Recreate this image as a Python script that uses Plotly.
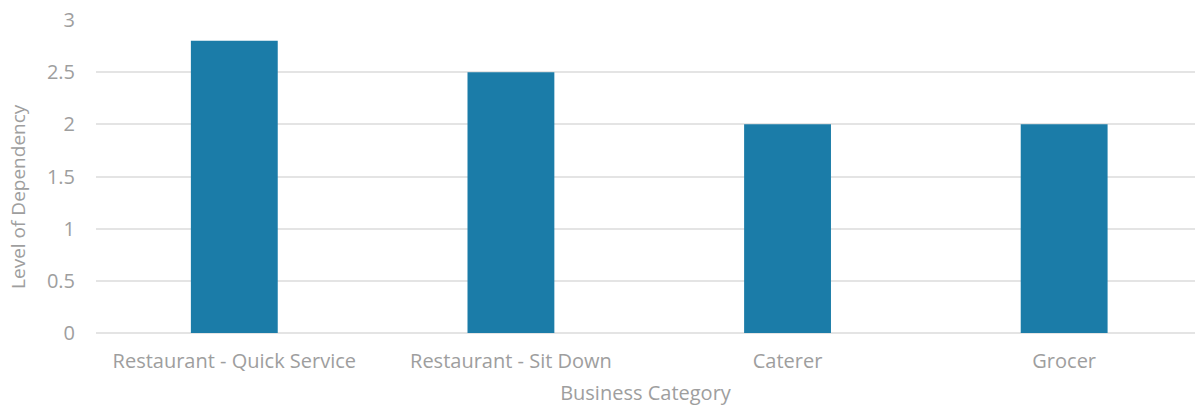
import plotly.graph_objects as go

categories = ["Restaurant - Quick Service", "Restaurant - Sit Down", "Caterer", "Grocer"]
dependency = [2.8, 2.5, 2.0, 2.0]
y_ticks = [0, 0.5, 1, 1.5, 2, 2.5, 3]
y_tick_labels = ["0", "0.5", "1", "1.5", "2", "2.5", "3"]

FONT = "Open Sans"
GRAY = "#9e9e9e"

fig = go.Figure(
    go.Bar(
        x=categories,
        y=dependency,
        marker=dict(color="#1b7ca8", line=dict(width=0)),
    )
)

fig.update_layout(
    width=1195,
    height=411,
    margin=dict(l=96, r=0, t=20, b=78),
    paper_bgcolor="white",
    plot_bgcolor="white",
    bargap=0.686,
    showlegend=False,
    font=dict(family=FONT, color=GRAY, size=20),
)

fig.update_xaxes(
    range=[-0.5, 3.473],
    showgrid=False,
    showline=False,
    zeroline=False,
    ticks="",
    ticklabelstandoff=14,
    tickfont=dict(family=FONT, size=20, color=GRAY),
    title=dict(text="Business Category", font=dict(family=FONT, size=20, color=GRAY), standoff=12),
)

fig.update_yaxes(
    range=[0, 3],
    tickvals=y_ticks,
    ticktext=y_tick_labels,
    showgrid=True,
    gridcolor="#e4e4e4",
    gridwidth=1.5,
    zeroline=True,
    zerolinecolor="#e4e4e4",
    zerolinewidth=1.5,
    showline=False,
    ticks="",
    ticklabelstandoff=20,
    tickfont=dict(family=FONT, size=20, color=GRAY),
)

# Vertical axis title, placed as a rotated annotation slightly below the plot centre
fig.add_annotation(
    text="Level of Dependency",
    xref="paper",
    yref="paper",
    x=-0.071,
    y=0.438,
    xanchor="center",
    yanchor="middle",
    textangle=-90,
    showarrow=False,
    font=dict(family=FONT, size=19, color=GRAY),
)

fig.write_html("out.html")
